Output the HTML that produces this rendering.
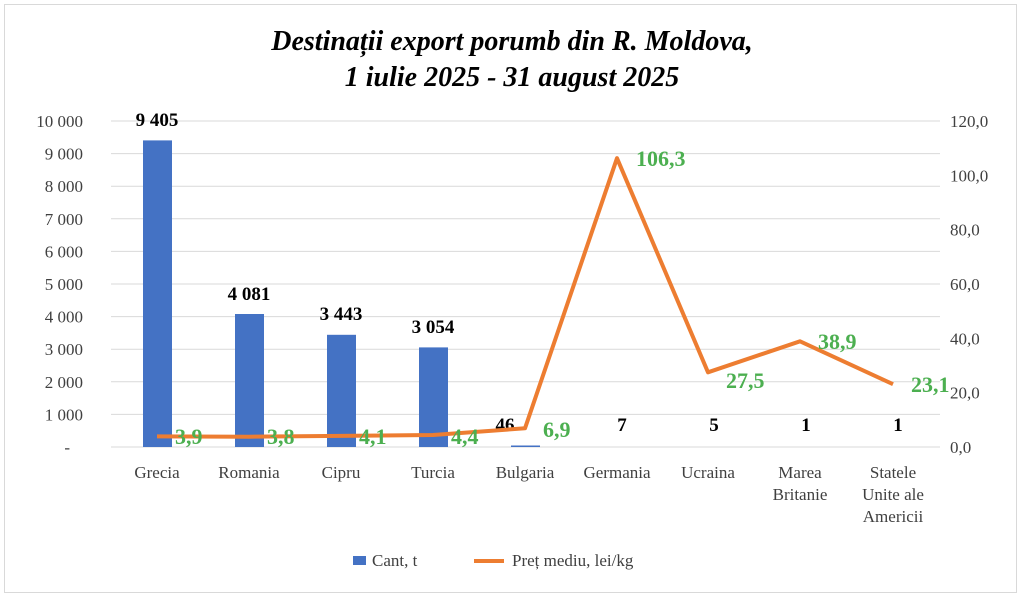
<!DOCTYPE html>
<html><head><meta charset="utf-8"><style>
body{margin:0;background:#fff}
svg{display:block}
text{font-family:"Liberation Serif",serif}
</style></head><body>
<svg width="1024" height="600" viewBox="0 0 1024 600" xmlns="http://www.w3.org/2000/svg">
<rect x="4.5" y="4.5" width="1012" height="588" fill="#fff" stroke="#d9d9d9"/>
<text x="512" y="50" text-anchor="middle" font-size="28" font-weight="bold" font-style="italic">Destinații export porumb din R. Moldova,</text>
<text x="512" y="86" text-anchor="middle" font-size="28" font-weight="bold" font-style="italic">1 iulie 2025 - 31 august 2025</text>
<g stroke="#d9d9d9" stroke-width="1">
<line x1="111" x2="940" y1="121" y2="121"/><line x1="111" x2="940" y1="153.6" y2="153.6"/>
<line x1="111" x2="940" y1="186.2" y2="186.2"/><line x1="111" x2="940" y1="218.8" y2="218.8"/>
<line x1="111" x2="940" y1="251.4" y2="251.4"/><line x1="111" x2="940" y1="284" y2="284"/>
<line x1="111" x2="940" y1="316.6" y2="316.6"/><line x1="111" x2="940" y1="349.2" y2="349.2"/>
<line x1="111" x2="940" y1="381.8" y2="381.8"/><line x1="111" x2="940" y1="414.4" y2="414.4"/>
<line x1="111" x2="940" y1="447" y2="447"/>
</g>
<g font-size="17" fill="#404040" text-anchor="end">
<text x="83" y="127">10 000</text><text x="83" y="159.6">9 000</text><text x="83" y="192.2">8 000</text>
<text x="83" y="224.8">7 000</text><text x="83" y="257.4">6 000</text><text x="83" y="290">5 000</text>
<text x="83" y="322.6">4 000</text><text x="83" y="355.2">3 000</text><text x="83" y="387.8">2 000</text>
<text x="83" y="420.4">1 000</text><text x="70" y="453">-</text>
</g>
<g font-size="17" fill="#404040" text-anchor="start">
<text x="950" y="127">120,0</text><text x="950" y="181.3">100,0</text><text x="950" y="235.7">80,0</text>
<text x="950" y="290">60,0</text><text x="950" y="344.3">40,0</text><text x="950" y="398.7">20,0</text>
<text x="950" y="453">0,0</text>
</g>
<g fill="#4472c4">
<rect x="143" y="140.4" width="29" height="306.6"/>
<rect x="235" y="314" width="29" height="133"/>
<rect x="327" y="334.8" width="29" height="112.2"/>
<rect x="419" y="347.4" width="29" height="99.6"/>
<rect x="511" y="445.5" width="29" height="1.5"/>
</g>
<g font-size="19" font-weight="bold" text-anchor="middle" fill="#000">
<text x="157" y="126">9 405</text><text x="249" y="300">4 081</text><text x="341" y="320">3 443</text>
<text x="433" y="333">3 054</text><text x="505" y="431">46</text><text x="622" y="431">7</text>
<text x="714" y="431">5</text><text x="806" y="431">1</text><text x="898" y="431">1</text>
</g>
<polyline fill="none" stroke="#ed7d31" stroke-width="4" stroke-linejoin="round" points="157,436.4 249,436.7 341,435.9 433,435 525,428.3 617,158.2 708,372.3 800,341.3 893,384.2"/>
<g font-size="22" font-weight="bold" fill="#4caf50" text-anchor="start">
<text x="175" y="444">3,9</text><text x="267" y="444">3,8</text><text x="359" y="444">4,1</text>
<text x="451" y="444">4,4</text><text x="543" y="437">6,9</text><text x="636" y="166">106,3</text>
<text x="726" y="388">27,5</text><text x="818" y="349">38,9</text><text x="911" y="392">23,1</text>
</g>
<g font-size="17" fill="#404040" text-anchor="middle">
<text x="157" y="478">Grecia</text><text x="249" y="478">Romania</text><text x="341" y="478">Cipru</text>
<text x="433" y="478">Turcia</text><text x="525" y="478">Bulgaria</text><text x="617" y="478">Germania</text>
<text x="708" y="478">Ucraina</text><text x="800" y="478">Marea</text><text x="800" y="500">Britanie</text>
<text x="893" y="478">Statele</text><text x="893" y="500">Unite ale</text><text x="893" y="522">Americii</text>
</g>
<rect x="353" y="556" width="13" height="9" fill="#4472c4"/>
<text x="372" y="566" font-size="17" fill="#404040">Cant, t</text>
<line x1="474" x2="504" y1="561" y2="561" stroke="#ed7d31" stroke-width="4"/>
<text x="512" y="566" font-size="17" fill="#404040">Preț mediu, lei/kg</text>
</svg>
</body></html>
